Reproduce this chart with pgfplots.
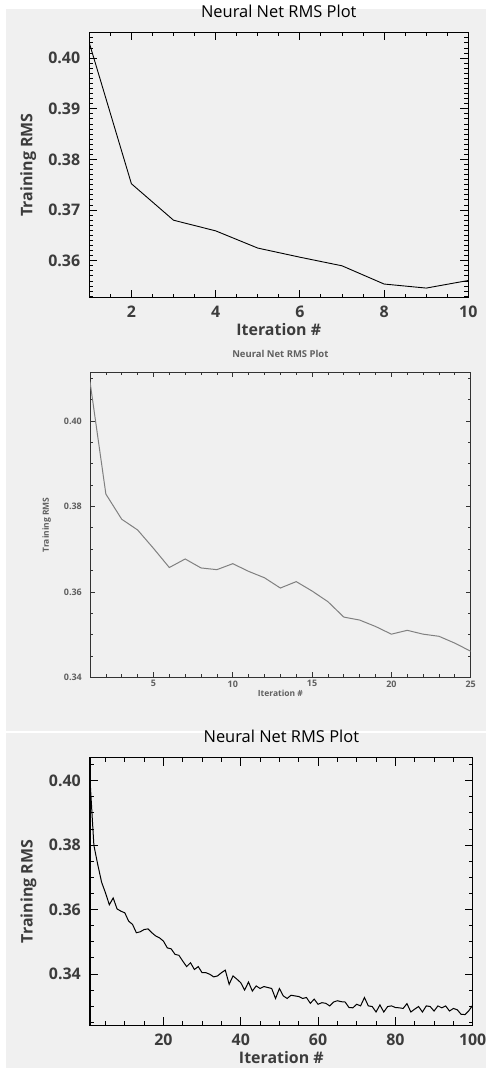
\documentclass[border=0pt]{standalone}
\usepackage{fontspec}
\setmainfont{Open Sans}
\usepackage{pgfplots}
\pgfplotsset{compat=1.18}
\usepackage{pgfplotstable}
\definecolor{bgc}{HTML}{F0F0F0}
\definecolor{tlc}{HTML}{3C3C3C}
\definecolor{smc}{HTML}{606060}

\pgfplotstableread{
x y
1 0.4030
2 0.3752
3 0.3680
4 0.3659
5 0.3625
6 0.3607
7 0.3590
8 0.3554
9 0.3546
10 0.3561
}\dataA

\pgfplotstableread{
x y
1 0.4092
2 0.3829
3 0.3770
4 0.3745
5 0.3702
6 0.3657
7 0.3677
8 0.3656
9 0.3652
10 0.3666
11 0.3648
12 0.3633
13 0.3609
14 0.3624
15 0.3602
16 0.3577
17 0.3541
18 0.3534
19 0.3519
20 0.3501
21 0.3510
22 0.3501
23 0.3496
24 0.3480
25 0.3461
}\dataB

\pgfplotstableread{
x y
1 0.4003
2 0.3800
3 0.3740
4 0.3685
5 0.3652
6 0.3615
7 0.3636
8 0.3602
9 0.3595
10 0.3590
11 0.3564
12 0.3554
13 0.3528
14 0.3531
15 0.3538
16 0.3540
17 0.3528
18 0.3518
19 0.3512
20 0.3502
21 0.3481
22 0.3478
23 0.3461
24 0.3458
25 0.3440
26 0.3423
27 0.3435
28 0.3414
29 0.3423
30 0.3404
31 0.3404
32 0.3399
33 0.3391
34 0.3394
35 0.3404
36 0.3412
37 0.3368
38 0.3394
39 0.3384
40 0.3373
41 0.3350
42 0.3375
43 0.3347
44 0.3363
45 0.3355
46 0.3361
47 0.3358
48 0.3355
49 0.3324
50 0.3355
51 0.3332
52 0.3324
53 0.3334
54 0.3332
55 0.3330
56 0.3324
57 0.3327
58 0.3309
59 0.3322
60 0.3306
61 0.3311
62 0.3309
63 0.3301
64 0.3313
65 0.3317
66 0.3314
67 0.3313
68 0.3296
69 0.3295
70 0.3306
71 0.3301
72 0.3327
73 0.3301
74 0.3299
75 0.3282
76 0.3304
77 0.3282
78 0.3299
79 0.3301
80 0.3296
81 0.3295
82 0.3293
83 0.3308
84 0.3282
85 0.3291
86 0.3299
87 0.3282
88 0.3301
89 0.3299
90 0.3285
91 0.3301
92 0.3295
93 0.3301
94 0.3285
95 0.3293
96 0.3289
97 0.3275
98 0.3274
99 0.3286
100 0.3303
}\dataC

\pgfplotsset{
  bigstyle/.style={
    scale only axis,
    axis line style={line width=1.3bp, black},
    tick align=inside,
    major tick length=8bp,
    minor tick length=4bp,
    every tick/.style={black, line width=0.9bp},
    /pgf/number format/assume math mode=true,
    ticklabel style={font=\fontsize{16}{18}\selectfont\bfseries, text=tlc, inner sep=0pt},
    xticklabel style={anchor=north, yshift=-8bp},
    yticklabel style={anchor=east, xshift=-9bp},
    yticklabel={\pgfmathprintnumber[fixed,fixed zerofill,precision=2]{\tick}},
    title style={font=\fontsize{16.5}{18}\selectfont, text=black, at={(axis description cs:0.5,1)}, anchor=center, yshift=15.3bp},
    xlabel style={font=\fontsize{16}{18}\selectfont\bfseries, text=tlc, at={(axis description cs:0.5,0)}, anchor=center, yshift=-32.3bp},
    ylabel style={font=\fontsize{16}{18}\selectfont\bfseries, text=tlc, anchor=center},
    title={Neural Net RMS Plot},
    xlabel={Iteration \#},
    ylabel={Training RMS},
  }
}

\begin{document}
\begin{tikzpicture}
\useasboundingbox (0,0) rectangle (486bp,-1068bp);
\fill[white] (0,0) rectangle (486bp,-1068bp);
\fill[bgc] (6bp,-9bp) rectangle (486bp,-731bp);
\fill[bgc] (6bp,-733bp) rectangle (486bp,-1068bp);

% Panel 1
\begin{axis}[bigstyle,
  at={(89.3bp,-297.7bp)}, anchor=south west,
  width=379bp, height=265.4bp,
  xmin=1, xmax=10, ymin=0.3527, ymax=0.4051,
  xtick={2,4,6,8,10},
  minor xtick={1,1.5,...,10},
  ytick={0.36,0.37,0.38,0.39,0.40},
  minor ytick={0.353,0.354,...,0.405},
  ylabel style={at={(axis description cs:-0.161,0.5)}},
]
\addplot[black, line width=0.9bp] table[x=x,y=y]{\dataA};
\end{axis}

% Panel 2
\begin{axis}[
  scale only axis,
  at={(90bp,-677.3bp)}, anchor=south west,
  width=380.7bp, height=305bp,
  xmin=1, xmax=25, ymin=0.34, ymax=0.4114,
  axis line style={line width=0.9bp, black!80},
  tick align=inside,
  major tick length=5bp,
  minor tick length=3bp,
  every tick/.style={black!80, line width=0.7bp},
  /pgf/number format/assume math mode=true,
  ticklabel style={font=\fontsize{9}{10}\selectfont\bfseries, text=smc, inner sep=0pt},
  xticklabel style={anchor=north, yshift=-3bp},
  yticklabel style={anchor=east, xshift=-8bp},
  yticklabel={\pgfmathprintnumber[fixed,fixed zerofill,precision=2]{\tick}},
  xtick={5,10,15,20,25},
  minor xtick={1,...,25},
  ytick={0.34,0.36,0.38,0.40},
  minor ytick={0.345,0.35,...,0.41},
  title={Neural Net RMS Plot},
  title style={font=\fontsize{9.5}{10}\selectfont\bfseries, text=smc, at={(axis description cs:0.5,1)}, anchor=center, yshift=12.3bp},
  xlabel={Iteration \#},
  xlabel style={font=\fontsize{8.5}{10}\selectfont\bfseries, text=smc, at={(axis description cs:0.5,0)}, anchor=center, yshift=-16bp},
  ylabel={Training RMS},
  ylabel style={font=\fontsize{8.5}{10}\selectfont\bfseries, text=smc, anchor=center, at={(axis description cs:-0.1137,0.5)}},
]
\addplot[black!50, line width=1bp] table[x=x,y=y]{\dataB};
\end{axis}

% Panel 3
\begin{axis}[bigstyle,
  at={(90bp,-1025.3bp)}, anchor=south west,
  width=382.7bp, height=267.6bp,
  xmin=1, xmax=100, ymin=0.32407, ymax=0.40714,
  xtick={20,40,60,80,100},
  minor xtick={5,10,...,100},
  ytick={0.34,0.36,0.38,0.40},
  minor ytick={0.325,0.33,...,0.405},
  title style={yshift=-0.3bp},
  xlabel style={yshift=-0.4bp},
  ylabel style={at={(axis description cs:-0.161,0.5)}},
]
\addplot[black, line width=1bp] table[x=x,y=y]{\dataC};
\end{axis}
\end{tikzpicture}
\end{document}
